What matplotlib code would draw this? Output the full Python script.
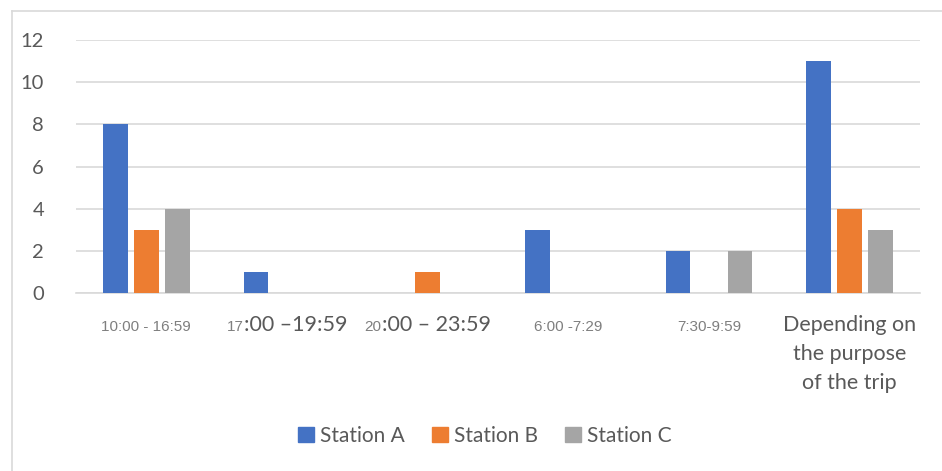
import matplotlib
matplotlib.use("Agg")
import matplotlib.pyplot as plt
from matplotlib.patches import Rectangle
from matplotlib.lines import Line2D
import numpy as np

# Departure-time preference counts per station
categories = ["10:00 - 16:59", "17:00 \u201319:59", "20:00 \u2013 23:59",
              "6:00 -7:29", "7:30-9:59", "Depending on\nthe purpose\nof the trip"]
# (small-font prefix, large-font remainder) for each tick label
label_small = ["10:00 - 16:59", "17", "20", "6:00 -7:29", "7:30-9:59", ""]
label_large = ["", ":00 \u201319:59", ":00 \u2013 23:59", "", "", "Depending on\nthe purpose\nof the trip"]
station_a = [8, 1, 0, 3, 2, 11]
station_b = [3, 0, 1, 0, 0, 4]
station_c = [4, 0, 0, 0, 2, 3]
series_names = ["Station A", "Station B", "Station C"]
colors = ["#4472C4", "#ED7D31", "#A5A5A5"]
y_ticks = [0, 2, 4, 6, 8, 10, 12]

W, H, DPI = 942, 471, 100
fig = plt.figure(figsize=(W / DPI, H / DPI), dpi=DPI)
fig.patch.set_facecolor("white")

# light frame along the top and left edges of the chart area
fig.add_artist(Line2D([11.5 / W, 11.5 / W], [0, 1 - 11 / H], transform=fig.transFigure,
                      color="#D9D9D9", lw=1.2))
fig.add_artist(Line2D([11.5 / W, 1], [1 - 11 / H, 1 - 11 / H], transform=fig.transFigure,
                      color="#D9D9D9", lw=1.2))

ax = fig.add_axes([76 / W, 1 - 293 / H, (920 - 76) / W, (293 - 40) / H])
x = np.arange(len(categories))
offsets = [-0.22, 0.0, 0.22]
width = 0.175
for vals, off, col, name in zip([station_a, station_b, station_c], offsets, colors, series_names):
    ax.bar(x + off, vals, width=width, color=col, label=name, zorder=3)

ax.set_xlim(-0.5, len(categories) - 0.5)
ax.set_ylim(0, 12)
ax.set_yticks(y_ticks)
ax.yaxis.grid(True, color="#D9D9D9", lw=1.2, zorder=0)
ax.set_axisbelow(True)
for s in ["top", "right", "left"]:
    ax.spines[s].set_visible(False)
ax.spines["bottom"].set_color("#D9D9D9")
ax.spines["bottom"].set_linewidth(1.2)
ax.tick_params(axis="y", length=0, pad=23, labelsize=14.5, labelcolor="#595959")
ax.tick_params(axis="x", length=0)
ax.set_xticks(x)
ax.set_xticklabels([""] * len(categories))
for t in ax.get_yticklabels():
    t.set_fontfamily("Lato")

small_kw = dict(fontsize=11, family="Liberation Sans", color="#7F7F7F")
large_kw = dict(fontsize=15.5, family="Lato", color="#595959")
base_px = -38  # baseline of the category labels, pixels below the axis

fig.canvas.draw()
renderer = fig.canvas.get_renderer()
for i in range(len(categories)):
    sm, lg = label_small[i], label_large[i]
    if lg and "\n" in lg:
        ax.annotate(lg, xy=(x[i], 0), xycoords=("data", "axes fraction"),
                    xytext=(0, -22), textcoords="offset pixels",
                    ha="center", va="top", linespacing=1.56, **large_kw)
        continue
    parts = []
    if sm:
        parts.append((sm, small_kw))
    if lg:
        parts.append((lg, large_kw))
    texts, widths = [], []
    for s, kw in parts:
        t = ax.annotate(s, xy=(x[i], 0), xycoords=("data", "axes fraction"),
                        xytext=(0, base_px), textcoords="offset pixels",
                        ha="left", va="baseline", **kw)
        texts.append(t)
        widths.append(t.get_window_extent(renderer).width)
    start = -sum(widths) / 2
    for t, w in zip(texts, widths):
        t.set_position((start, base_px))
        start += w

handles = [Rectangle((0, 0), 1, 1, color=c) for c in colors]
leg = fig.legend(handles, series_names, loc="center", bbox_to_anchor=(485 / W, 1 - 436 / H),
                 ncol=3, frameon=False, handlelength=0.75, handleheight=0.75,
                 handletextpad=0.3, columnspacing=1.3,
                 prop={"family": "Lato", "size": 15})
for t in leg.get_texts():
    t.set_color("#595959")

fig.savefig("out.png", dpi=DPI, facecolor="white")
